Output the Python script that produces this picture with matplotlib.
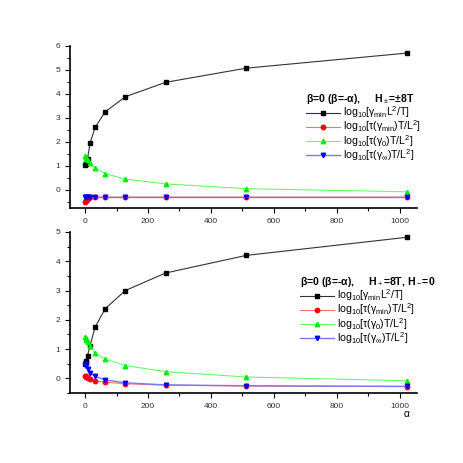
import matplotlib
matplotlib.use('Agg')
import matplotlib.pyplot as plt
from matplotlib.ticker import MultipleLocator

plt.rcParams['font.family'] = ['Liberation Sans', 'DejaVu Sans']
plt.rcParams['mathtext.fontset'] = 'custom'
plt.rcParams['mathtext.rm'] = 'Liberation Sans'
plt.rcParams['mathtext.it'] = 'Liberation Sans'
plt.rcParams['mathtext.bf'] = 'Liberation Sans:bold'

alpha = [1, 2, 4, 8, 16, 32, 64, 128, 256, 512, 1024]

# top panel: H = +-8T
top_gmin = [1.05, 1.08, 1.12, 1.3, 1.95, 2.6, 3.25, 3.88, 4.48, 5.07, 5.7]
top_tau_gmin = [-0.5, -0.46, -0.41, -0.36, -0.31, -0.3, -0.3, -0.3, -0.3, -0.3, -0.3]
top_tau_g0 = [1.4, 1.37, 1.3, 1.25, 1.1, 0.9, 0.68, 0.45, 0.25, 0.05, -0.08]
top_tau_ginf = [-0.3, -0.3, -0.3, -0.3, -0.3, -0.3, -0.3, -0.3, -0.3, -0.3, -0.3]

# bottom panel: H+ = 8T, H- = 0
bot_gmin = [0.5, 0.55, 0.6, 0.78, 1.12, 1.75, 2.38, 3.0, 3.6, 4.2, 4.82]
bot_tau_gmin = [0.1, 0.08, 0.05, 0.02, -0.02, -0.08, -0.13, -0.18, -0.23, -0.26, -0.28]
bot_tau_g0 = [1.4, 1.37, 1.3, 1.25, 1.1, 0.88, 0.66, 0.44, 0.23, 0.05, -0.08]
bot_tau_ginf = [0.5, 0.47, 0.42, 0.32, 0.2, 0.07, -0.05, -0.15, -0.22, -0.25, -0.27]

labels = [r'log$_{10}$[γ$_{\rm min}$L$^2$/T]',
          r'log$_{10}$[τ(γ$_{\rm min}$)T/L$^2$]',
          r'log$_{10}$[τ(γ$_0$)T/L$^2$]',
          r'log$_{10}$[τ(γ$_\infty$)T/L$^2$]']

styles = [dict(color='#333333', marker='s', mfc='black', mec='black', lw=0.8),
          dict(color='#ff7070', marker='o', mfc='red', mec='red', lw=0.8),
          dict(color='#66ff66', marker='^', mfc='#00ee00', mec='#00ee00', lw=0.8),
          dict(color='#7777ff', marker='v', mfc='blue', mec='blue', lw=1.0)]

fig = plt.figure(figsize=(4.63, 4.63), dpi=100)
ax1 = fig.add_axes([0.151, 0.551, 0.750, 0.350])
ax2 = fig.add_axes([0.151, 0.151, 0.750, 0.348])

def setup(ax, ylo, yhi):
    ax.set_xlim(-48, 1055)
    ax.set_ylim(ylo, yhi)
    ax.spines['top'].set_visible(False)
    ax.spines['right'].set_visible(False)
    ax.xaxis.set_major_locator(MultipleLocator(200))
    ax.xaxis.set_minor_locator(MultipleLocator(100))
    ax.yaxis.set_major_locator(MultipleLocator(1))
    ax.yaxis.set_minor_locator(MultipleLocator(0.5))
    ax.tick_params(which='major', direction='out', length=3.5, width=0.8, labelsize=6,
                   labelcolor='#333333')
    ax.tick_params(which='minor', direction='out', length=2, width=0.8)
    for s in ['left', 'bottom']:
        ax.spines[s].set_linewidth(1.2)

series_top = [top_gmin, top_tau_gmin, top_tau_g0, top_tau_ginf]
series_bot = [bot_gmin, bot_tau_gmin, bot_tau_g0, bot_tau_ginf]

for ax, series in [(ax1, series_top), (ax2, series_bot)]:
    for ys, lab, st in zip(series, labels, styles):
        ax.plot(alpha, ys, ms=3.2, label=lab, **st)

setup(ax1, -0.75, 6.0)
setup(ax2, -0.5, 5.0)

common = dict(bbox_transform=fig.transFigure, frameon=False, fontsize=7.6,
              title_fontproperties={'weight': 'bold', 'size': 7.6},
              alignment='left', handlelength=3.2, labelspacing=-0.15,
              handletextpad=0.3, borderpad=0, borderaxespad=0)

ax1.legend(loc='upper left', bbox_to_anchor=(306 / 463, 1 - 92 / 463),
           title='β=0 (β=-α),     H$_\\pm$=±8T', **common)
ax2.legend(loc='upper left', bbox_to_anchor=(300 / 463, 1 - 275 / 463),
           title='β=0 (β=-α),     H$_+$=8T, H$_-$=0', **common)

ax2.set_xlabel('α', fontsize=7.5)
ax2.xaxis.set_label_coords(0.97, -0.1)

fig.savefig('out.png', dpi=100)
